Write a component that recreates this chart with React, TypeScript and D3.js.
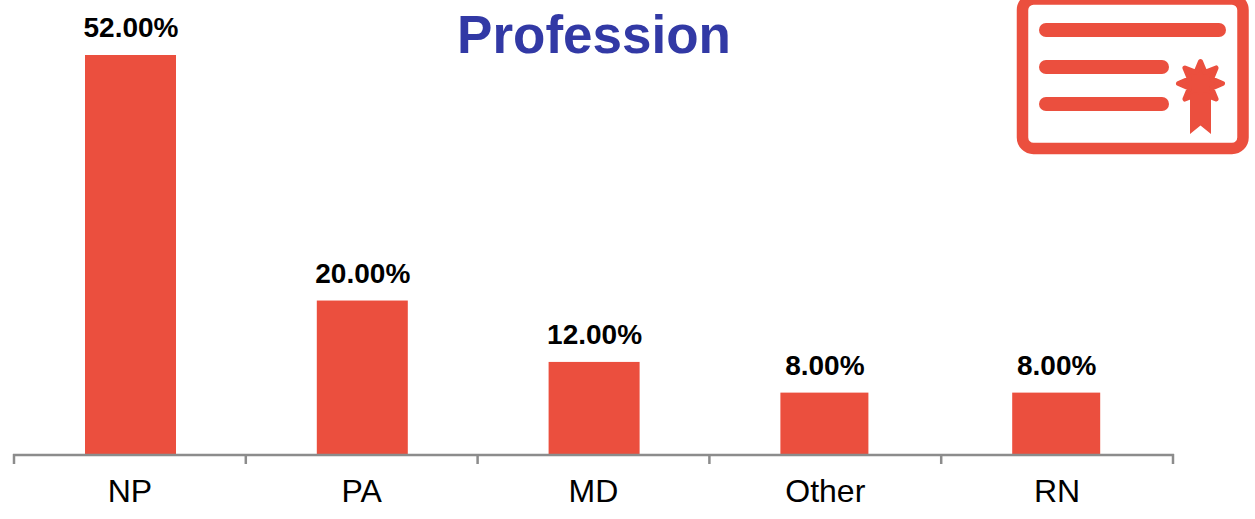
import React from "react";
import * as d3 from "d3";

const categories = ["NP", "PA", "MD", "Other", "RN"];
const shares = [52, 20, 12, 8, 8];
const barWidths = [91, 91, 91, 88, 88];
const chartTitle = "Profession";

const RED = "#EB4F3E";
const AXIS = "#8C8C8C";
const FONT = "'Liberation Sans', Arial, sans-serif";

const width = 1255;
const height = 519;
const axisY = 454;

const x = d3.scaleBand<string>().domain(categories).range([14, 1173]).padding(0);
const y = d3.scaleLinear().domain([0, 52]).range([axisY, 55]);

// Alternating outer and inner radii for the eight-pointed seal on the certificate.
const sealPoints: [number, number][] = d3.range(16).map((i) => [
  (i * Math.PI) / 8,
  i % 2 === 0 ? 22 : 12,
]);
const sealPath = d3.lineRadial().curve(d3.curveLinearClosed)(sealPoints) ?? "";

function CertificateIcon() {
  const rows: [number, number][] = [
    [30, 1226],
    [67, 1169],
    [104, 1169],
  ];
  return (
    <g fill={RED}>
      <rect x={1022.5} y={-1} width={220.5} height={149.5} rx={11} fill="none" stroke={RED} strokeWidth={11.5} />
      {rows.map(([cy, end]) => (
        <rect key={cy} x={1039} y={cy - 7} width={end - 1039} height={14} rx={7} />
      ))}
      <path d={sealPath} transform="translate(1200.5 83.5)" stroke={RED} strokeWidth={5} strokeLinejoin="round" />
      <path d="M1190 95H1211V134L1200.5 125.5L1190 134Z" />
    </g>
  );
}

export default function App() {
  const band = x.bandwidth();
  return (
    <svg
      width={width}
      height={height}
      viewBox={`0 0 ${width} ${height}`}
      style={{ position: "absolute", left: 0, top: 0, background: "#fff" }}
    >
      <text x={594} y={53} textAnchor="middle" fontFamily={FONT} fontWeight={700} fontSize={53} fill="#3239A5">
        {chartTitle}
      </text>

      {categories.map((c, i) => {
        const left = (x(c) ?? 0) + 71;
        const w = barWidths[i];
        return (
          <g key={c}>
            <rect x={left} y={y(shares[i])} width={w} height={axisY - y(shares[i])} fill={RED} />
            <text
              x={left + w / 2 + 0.5}
              y={y(shares[i]) - 18}
              textAnchor="middle"
              fontFamily={FONT}
              fontWeight={700}
              fontSize={28}
              fill="#000"
            >
              {shares[i].toFixed(2)}%
            </text>
            <text
              x={(x(c) ?? 0) + band / 2}
              y={502}
              textAnchor="middle"
              fontFamily={FONT}
              fontSize={32}
              fill="#000"
            >
              {c}
            </text>
          </g>
        );
      })}

      <g stroke={AXIS} strokeWidth={2.5} fill="none">
        <line x1={13} x2={1174} y1={axisY + 1} y2={axisY + 1} />
        {[...categories.map((c) => x(c) ?? 0), 1173].map((t) => (
          <line key={t} x1={t} x2={t} y1={axisY} y2={464} />
        ))}
      </g>

      <CertificateIcon />
    </svg>
  );
}
